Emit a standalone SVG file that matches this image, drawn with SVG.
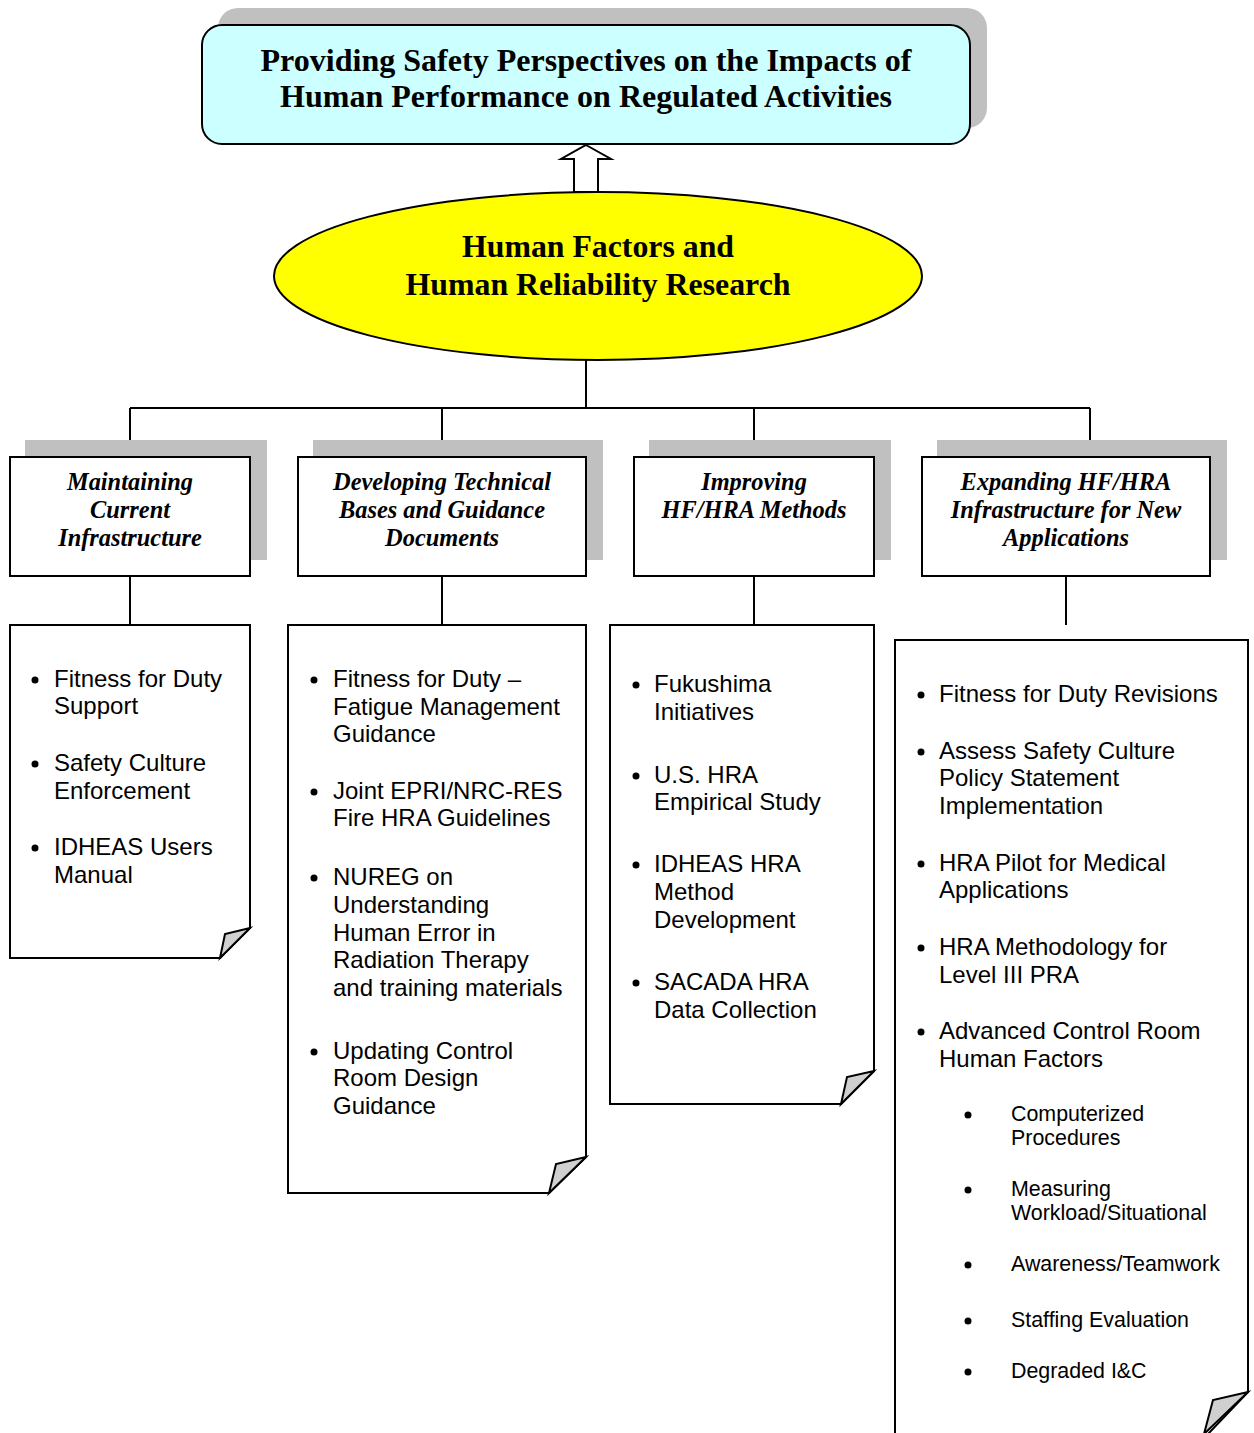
<svg xmlns="http://www.w3.org/2000/svg" width="1254" height="1433" viewBox="0 0 1254 1433">
<style>
.shadow{fill:#C0C0C0;stroke:none}
.box{fill:#fff;stroke:#000;stroke-width:2}
.line{stroke:#000;stroke-width:2;fill:none}
.fold{fill:#D0D0D0;stroke:#000;stroke-width:2;stroke-linejoin:miter}
.title{font-family:"Liberation Serif","Times New Roman",serif;font-weight:bold;font-size:32px;text-anchor:middle;fill:#000}
.hdr{font-family:"Liberation Serif","Times New Roman",serif;font-weight:bold;font-style:italic;font-size:24.4px;text-anchor:middle;fill:#000}
.item{font-family:"Liberation Sans",Arial,sans-serif;font-size:24px;fill:#000}
.sub{font-family:"Liberation Sans",Arial,sans-serif;font-size:21.4px;fill:#000}
.dot{fill:#000}
</style>
<defs>
<circle id="b" r="3.5" class="dot"/>
</defs>

<g id="goal">
<rect class="shadow" x="218" y="8" width="769" height="120" rx="20"/>
<rect x="202" y="25" width="768" height="119" rx="20" fill="#CCFFFF" stroke="#000" stroke-width="2"/>
<text class="title" x="586" y="71" textLength="651" lengthAdjust="spacingAndGlyphs">Providing Safety Perspectives on the Impacts of</text>
<text class="title" x="586" y="107" textLength="612" lengthAdjust="spacingAndGlyphs">Human Performance on Regulated Activities</text>
</g>

<g id="research">
<ellipse cx="598" cy="276" rx="324" ry="84" fill="#FFFF00" stroke="#000" stroke-width="2"/>
<text class="title" x="598" y="257" font-size="30" textLength="272" lengthAdjust="spacingAndGlyphs">Human Factors and</text>
<text class="title" x="598" y="295" font-size="30" textLength="385" lengthAdjust="spacingAndGlyphs">Human Reliability Research</text>
</g>

<g id="connectors">
<path d="M586,145 L611,159 L598,159 L598,192 L574,192 L574,159 L561,159 Z" fill="#fff" stroke="#000" stroke-width="2"/>
<path class="line" d="M586,360 V408 M130,408 H1090 M130,408 V457 M442,408 V457 M754,408 V457 M1090,408 V457"/>
<path class="line" d="M130,576 V625 M442,576 V625 M754,576 V625 M1066,576 V625"/>
</g>

<g id="cat1">
<rect class="shadow" x="25" y="440" width="242" height="120"/>
<rect class="box" x="10" y="457" width="240" height="119"/>
<text class="hdr" x="130" y="490">Maintaining</text>
<text class="hdr" x="130" y="518">Current</text>
<text class="hdr" x="130" y="546">Infrastructure</text>
</g>
<g id="cat2">
<rect class="shadow" x="313" y="440" width="290" height="120"/>
<rect class="box" x="298" y="457" width="288" height="119"/>
<text class="hdr" x="442" y="490">Developing Technical</text>
<text class="hdr" x="442" y="518">Bases and Guidance</text>
<text class="hdr" x="442" y="546">Documents</text>
</g>
<g id="cat3">
<rect class="shadow" x="649" y="440" width="242" height="120"/>
<rect class="box" x="634" y="457" width="240" height="119"/>
<text class="hdr" x="754" y="490">Improving</text>
<text class="hdr" x="754" y="518">HF/HRA Methods</text>
</g>
<g id="cat4">
<rect class="shadow" x="937" y="440" width="290" height="120"/>
<rect class="box" x="922" y="457" width="288" height="119"/>
<text class="hdr" x="1066" y="490">Expanding HF/HRA</text>
<text class="hdr" x="1066" y="518">Infrastructure for New</text>
<text class="hdr" x="1066" y="546">Applications</text>
</g>

<g id="doc1">
<path class="box" d="M10,625 H250 V928 L220,958 H10 Z"/>
<path class="fold" d="M250,928 L225,934 L220,958 Z"/>
<use href="#b" x="35" y="680"/><text class="item" x="54" y="687">Fitness for Duty</text>
<text class="item" x="54" y="714">Support</text>
<use href="#b" x="35" y="764"/><text class="item" x="54" y="771">Safety Culture</text>
<text class="item" x="54" y="799">Enforcement</text>
<use href="#b" x="35" y="848"/><text class="item" x="54" y="855">IDHEAS Users</text>
<text class="item" x="54" y="883">Manual</text>
</g>

<g id="doc2">
<path class="box" d="M288,625 H586 V1157 L549,1193 H288 Z"/>
<path class="fold" d="M586,1157 L556,1164 L549,1193 Z"/>
<use href="#b" x="314" y="680"/><text class="item" x="333" y="687">Fitness for Duty –</text>
<text class="item" x="333" y="715">Fatigue Management</text>
<text class="item" x="333" y="742">Guidance</text>
<use href="#b" x="314" y="792"/><text class="item" x="333" y="799">Joint EPRI/NRC-RES</text>
<text class="item" x="333" y="826">Fire HRA Guidelines</text>
<use href="#b" x="314" y="878"/><text class="item" x="333" y="885">NUREG on</text>
<text class="item" x="333" y="913">Understanding</text>
<text class="item" x="333" y="941">Human Error in</text>
<text class="item" x="333" y="968">Radiation Therapy</text>
<text class="item" x="333" y="996">and training materials</text>
<use href="#b" x="314" y="1052"/><text class="item" x="333" y="1059">Updating Control</text>
<text class="item" x="333" y="1086">Room Design</text>
<text class="item" x="333" y="1114">Guidance</text>
</g>

<g id="doc3">
<path class="box" d="M610,625 H874 V1071 L841,1104 H610 Z"/>
<path class="fold" d="M874,1071 L847,1077 L841,1104 Z"/>
<use href="#b" x="636" y="685"/><text class="item" x="654" y="692">Fukushima</text>
<text class="item" x="654" y="720">Initiatives</text>
<use href="#b" x="636" y="776"/><text class="item" x="654" y="783">U.S. HRA</text>
<text class="item" x="654" y="810">Empirical Study</text>
<use href="#b" x="636" y="865"/><text class="item" x="654" y="872">IDHEAS HRA</text>
<text class="item" x="654" y="900">Method</text>
<text class="item" x="654" y="928">Development</text>
<use href="#b" x="636" y="983"/><text class="item" x="654" y="990">SACADA HRA</text>
<text class="item" x="654" y="1018">Data Collection</text>
</g>

<g id="doc4">
<path class="box" d="M895,1434 V640 H1248 V1392 L1208,1434"/>
<path class="fold" d="M1248,1392 L1213,1400 L1204,1434 Z"/>
<use href="#b" x="921" y="695"/><text class="item" x="939" y="702">Fitness for Duty Revisions</text>
<use href="#b" x="921" y="752"/><text class="item" x="939" y="759">Assess Safety Culture</text>
<text class="item" x="939" y="786">Policy Statement</text>
<text class="item" x="939" y="814">Implementation</text>
<use href="#b" x="921" y="864"/><text class="item" x="939" y="871">HRA Pilot for Medical</text>
<text class="item" x="939" y="898">Applications</text>
<use href="#b" x="921" y="948"/><text class="item" x="939" y="955">HRA Methodology for</text>
<text class="item" x="939" y="983">Level III PRA</text>
<use href="#b" x="921" y="1032"/><text class="item" x="939" y="1039">Advanced Control Room</text>
<text class="item" x="939" y="1067">Human Factors</text>
<use href="#b" x="968" y="1115"/><text class="sub" x="1011" y="1121">Computerized</text>
<text class="sub" x="1011" y="1145">Procedures</text>
<use href="#b" x="968" y="1190"/><text class="sub" x="1011" y="1196">Measuring</text>
<text class="sub" x="1011" y="1220">Workload/Situational</text>
<use href="#b" x="968" y="1265"/><text class="sub" x="1011" y="1271">Awareness/Teamwork</text>
<use href="#b" x="968" y="1321"/><text class="sub" x="1011" y="1327">Staffing Evaluation</text>
<use href="#b" x="968" y="1372"/><text class="sub" x="1011" y="1378">Degraded I&amp;C</text>
</g>
</svg>
